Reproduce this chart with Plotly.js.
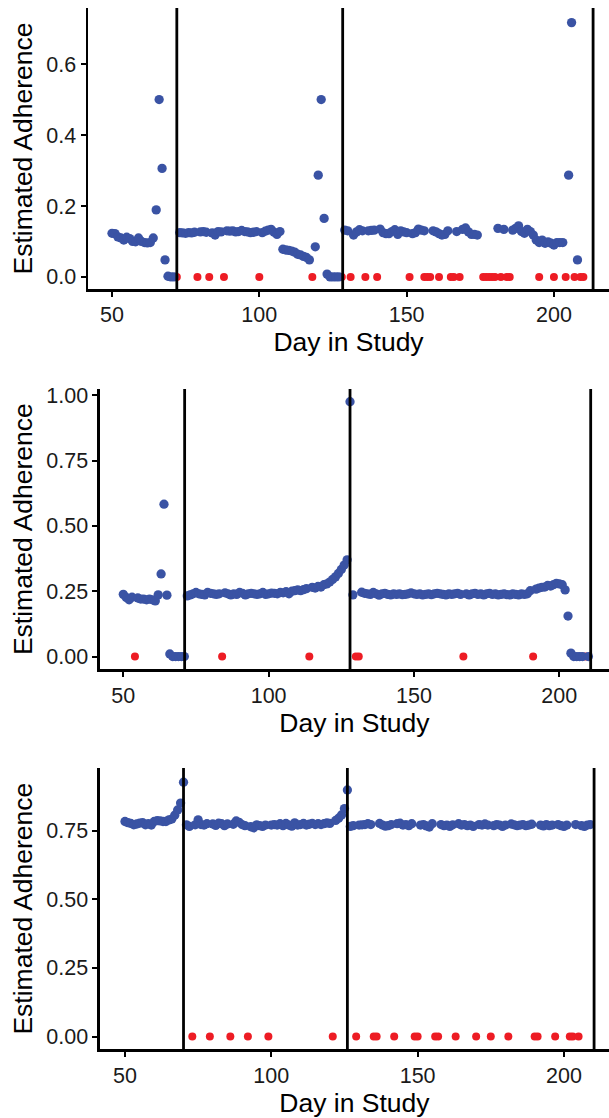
<!DOCTYPE html>
<html><head><meta charset="utf-8">
<script src="https://cdn.plot.ly/plotly-3.0.1.min.js"></script>
<style>html,body{margin:0;padding:0;background:#fff}#chart{width:609px;height:1118px}</style>
</head><body><div id="chart"></div>
<script>
// ---------- Panel 1 ----------
const p1BlueDays = [50,51,52,53,54,55,56,57,58,59,60,61,62,63,64,65,66,67,68,69,70,71,
  73,74,75,76,77,78,80,81,82,84,85,86,87,89,90,91,92,93,94,95,96,97,98,99,101,102,103,104,105,106,107,108,109,110,111,112,113,114,115,116,117,119,120,121,122,123,124,125,126,127,
  129,130,132,133,134,135,137,138,139,141,142,143,144,145,146,147,148,149,150,152,153,154,155,156,159,160,161,162,163,164,167,169,170,171,172,173,174,181,183,186,187,188,189,190,191,192,193,194,195,196,197,198,199,200,201,202,203,205,206,208];
const p1BlueVals = [0.123,0.122,0.113,0.110,0.104,0.112,0.108,0.100,0.099,0.110,0.100,0.097,0.096,0.097,0.110,0.189,0.500,0.306,0.048,0.002,0.000,0.000,
  0.125,0.124,0.123,0.125,0.124,0.126,0.127,0.128,0.126,0.124,0.118,0.128,0.127,0.130,0.129,0.130,0.127,0.128,0.131,0.128,0.127,0.125,0.126,0.128,0.125,0.129,0.132,0.134,0.126,0.120,0.128,0.078,0.076,0.075,0.073,0.070,0.064,0.062,0.058,0.055,0.048,0.085,0.287,0.500,0.165,0.008,0.000,0.000,0.000,0.000,
  0.132,0.130,0.118,0.127,0.133,0.130,0.130,0.131,0.132,0.135,0.125,0.122,0.122,0.128,0.133,0.120,0.130,0.127,0.125,0.122,0.125,0.135,0.132,0.130,0.130,0.127,0.122,0.118,0.120,0.130,0.128,0.134,0.138,0.127,0.120,0.120,0.118,0.137,0.134,0.132,0.137,0.144,0.128,0.123,0.134,0.128,0.118,0.104,0.097,0.104,0.095,0.099,0.095,0.090,0.097,0.097,0.097,0.287,0.717,0.048];
const p1RedDays = [72,79,83,88,100,118,128,131,136,140,151,156,157,158,161,165,166,168,176,177,178,179,180,182,184,185,195,200,204,207,209,210];
const p1Breaks = [72,128.3,213.3];

// ---------- Panel 2 ----------
const p2BlueDays = [50,51,52,53,55,56,57,58,59,60,61,62,63,64,65,66,67,68,69,70,71,
  72,73,74,75,76,77,78,79,80,81,82,83,85,86,87,88,89,90,91,92,93,94,95,96,97,98,99,100,101,102,103,104,105,106,107,108,109,110,111,112,113,115,116,117,118,119,120,121,122,123,124,125,126,127,128,
  129,132,133,134,135,136,137,138,139,140,141,142,143,144,145,146,147,148,149,150,151,152,153,154,155,156,157,158,159,160,161,162,163,164,165,166,168,169,170,171,172,173,174,175,176,177,178,179,180,181,182,183,184,185,186,187,188,189,190,192,193,194,195,196,197,198,199,200,201,202,203,204,205,206,207,208,210];
const p2BlueVals = [0.238,0.226,0.217,0.227,0.224,0.220,0.220,0.217,0.220,0.217,0.213,0.236,0.316,0.583,0.235,0.010,0.000,0.000,0.000,0.000,0.000,
  0.232,0.236,0.240,0.245,0.240,0.238,0.236,0.245,0.242,0.240,0.238,0.240,0.244,0.240,0.236,0.240,0.238,0.245,0.242,0.236,0.240,0.242,0.240,0.238,0.240,0.245,0.238,0.240,0.243,0.242,0.240,0.245,0.244,0.248,0.240,0.250,0.252,0.255,0.252,0.256,0.260,0.265,0.262,0.268,0.266,0.275,0.278,0.285,0.295,0.305,0.318,0.333,0.350,0.370,0.975,
  0.236,0.246,0.242,0.240,0.238,0.245,0.240,0.235,0.240,0.242,0.238,0.236,0.240,0.238,0.240,0.237,0.238,0.240,0.244,0.240,0.238,0.240,0.236,0.238,0.240,0.237,0.240,0.242,0.240,0.238,0.236,0.240,0.238,0.240,0.242,0.238,0.240,0.236,0.240,0.242,0.238,0.240,0.236,0.240,0.242,0.238,0.240,0.236,0.238,0.240,0.237,0.236,0.240,0.238,0.236,0.240,0.238,0.240,0.252,0.258,0.262,0.265,0.266,0.272,0.270,0.275,0.280,0.278,0.275,0.255,0.155,0.013,0.000,0.000,0.000,0.000,0.000];
const p2RedDays = [54,67,84,114,130,131,167,191,209];
const p2Breaks = [71.1,128,210.8];

// ---------- Panel 3 ----------
const p3BlueDays = [50,51,52,53,54,55,56,57,58,59,60,61,62,63,64,65,66,67,68,69,70,
  71,72,74,75,76,77,78,80,81,82,83,84,85,87,88,89,90,91,93,94,95,96,97,98,100,101,102,103,104,105,106,107,108,109,110,111,112,113,114,115,116,117,118,119,120,122,123,124,125,126,
  127,128,130,131,132,133,134,137,138,139,140,141,143,144,145,146,147,148,151,152,153,154,155,158,159,160,161,162,164,165,166,167,168,169,171,172,173,174,176,177,178,179,180,182,183,184,185,186,187,188,189,192,193,194,195,196,198,199,200,201,204,206,207,208,209];
const p3BlueVals = [0.783,0.779,0.776,0.771,0.774,0.777,0.779,0.771,0.775,0.770,0.783,0.786,0.785,0.783,0.783,0.789,0.792,0.806,0.825,0.850,0.926,
  0.771,0.765,0.771,0.789,0.772,0.770,0.775,0.774,0.769,0.777,0.775,0.768,0.774,0.773,0.785,0.780,0.772,0.768,0.764,0.760,0.771,0.768,0.765,0.770,0.770,0.772,0.770,0.775,0.768,0.776,0.770,0.766,0.778,0.770,0.772,0.776,0.770,0.773,0.776,0.772,0.775,0.772,0.775,0.778,0.776,0.787,0.795,0.807,0.830,0.898,
  0.765,0.768,0.770,0.771,0.772,0.775,0.772,0.776,0.770,0.766,0.768,0.772,0.775,0.777,0.770,0.772,0.768,0.775,0.770,0.772,0.767,0.763,0.775,0.772,0.768,0.770,0.765,0.771,0.775,0.770,0.772,0.768,0.770,0.765,0.772,0.770,0.774,0.770,0.768,0.772,0.770,0.765,0.770,0.774,0.771,0.768,0.770,0.772,0.768,0.770,0.773,0.770,0.767,0.772,0.768,0.770,0.772,0.768,0.765,0.770,0.772,0.768,0.765,0.770,0.772];
const p3RedDays = [73,79,86,92,99,121,129,135,136,142,149,150,156,157,163,170,175,181,190,191,197,202,203,205];
const p3Breaks = [70,126,210.3];

// ---------- Axis setup (ticks) ----------
const xTicks = [50,100,150,200];
const y1Ticks = [0,0.2,0.4,0.6];
const y23Ticks = [0,0.25,0.5,0.75,1.0];

const BLUE = '#3a53a4', RED = '#ed1c24';
const FONT = 'Liberation Sans, Arial, sans-serif';

function zeros(a){ return a.map(() => 0); }
function pts(x, y, color, size, xa, ya){
  return {type:'scatter', mode:'markers', x:x, y:y, xaxis:xa, yaxis:ya,
    marker:{color:color, size:size, line:{width:0}}, hoverinfo:'x+y', showlegend:false};
}

const data = [
  pts(p1RedDays, zeros(p1RedDays), RED, 8, 'x', 'y'),
  pts(p1BlueDays, p1BlueVals, BLUE, 9.3, 'x', 'y'),
  pts(p2RedDays, zeros(p2RedDays), RED, 8, 'x2', 'y2'),
  pts(p2BlueDays, p2BlueVals, BLUE, 9.3, 'x2', 'y2'),
  pts(p3RedDays, zeros(p3RedDays), RED, 8, 'x3', 'y3'),
  pts(p3BlueDays, p3BlueVals, BLUE, 9.3, 'x3', 'y3')
];

function xax(domain, range, anchor){
  return {domain:domain, range:range, anchor:anchor, showgrid:false, zeroline:false,
    showline:true, linecolor:'#000', linewidth:2.5, ticks:'outside', ticklen:5, tickwidth:2, tickcolor:'#000',
    tickvals:xTicks, tickfont:{family:FONT, size:21.5, color:'#1a1a1a'},
    title:{text:'Day in Study', font:{family:FONT, size:26.5, color:'#000'}, standoff:4},
    automargin:false, fixedrange:true};
}
function yax(domain, range, anchor, ticks, fmt){
  return {domain:domain, range:range, anchor:anchor, showgrid:false, zeroline:false,
    showline:true, linecolor:'#000', linewidth:2.5, ticks:'outside', ticklen:5, tickwidth:2, tickcolor:'#000',
    tickvals:ticks, tickformat:fmt, tickfont:{family:FONT, size:21.5, color:'#1a1a1a'},
    title:{text:'Estimated Adherence', font:{family:FONT, size:26.5, color:'#000'}, standoff:6},
    automargin:false, fixedrange:true};
}

function vlines(breaks, xref, yref){
  return breaks.map(b => ({type:'line', xref:xref, yref:yref+' domain', x0:b, x1:b, y0:0, y1:1,
    line:{color:'#000', width:2.8}}));
}

const layout = {
  width:609, height:1118, margin:{l:0,r:0,t:0,b:0},
  paper_bgcolor:'#fff', plot_bgcolor:'#fff',
  font:{family:FONT},
  xaxis: xax([0.1445,1], [41.85,218.7], 'y'),
  yaxis: yax([0.7415,0.9928], [-0.034,0.758], 'x', y1Ticks, '.1f'),
  xaxis2: xax([0.1642,1], [41.98,217.1], 'y2'),
  yaxis2: yax([0.4013,0.6521], [-0.049,1.024], 'x2', y23Ticks, '.2f'),
  xaxis3: xax([0.1642,1], [41.46,215.4], 'y3'),
  yaxis3: yax([0.0614,0.3131], [-0.0465,0.978], 'x3', y23Ticks, '.2f'),
  shapes: [].concat(vlines(p1Breaks,'x','y'), vlines(p2Breaks,'x2','y2'), vlines(p3Breaks,'x3','y3'))
};

Plotly.newPlot('chart', data, layout, {displayModeBar:false, staticPlot:true});
</script>
</body></html>
